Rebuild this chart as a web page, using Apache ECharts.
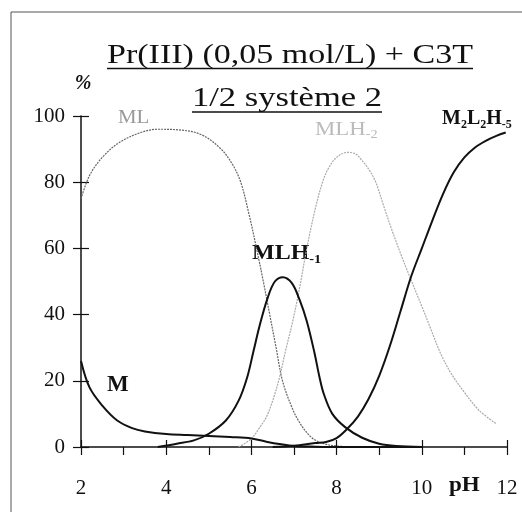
<!DOCTYPE html>
<html><head><meta charset="utf-8">
<script src="https://cdn.jsdelivr.net/npm/echarts@6/dist/echarts.min.js"></script>
<style>html,body{margin:0;padding:0;background:#fff}#c{width:522px;height:512px}</style>
</head><body><div id="c"></div>
<script>
// ---- data ----
const xTicks = [2, 4, 6, 8, 10, 12];
const yTicks = [0, 20, 40, 60, 80, 100];

const mPH  = [2, 2.2, 2.5, 2.85, 3.2, 3.5, 4, 4.5, 5, 5.5, 6, 6.35, 6.7, 7, 7.5, 8, 9, 10];
const mVal = [26, 18, 12.5, 8, 5.7, 4.7, 3.9, 3.6, 3.3, 3.0, 2.6, 1.6, 0.8, 0.3, 0.1, 0, 0, 0];

const mlPH  = [2, 2.2, 2.5, 2.9, 3.4, 3.8, 4.3, 4.8, 5.25, 5.55, 5.75, 5.95, 6.12, 6.28, 6.43, 6.58, 6.73, 6.95, 7.15, 7.4, 7.65, 8, 8.5];
const mlVal = [75, 82, 87.5, 92, 95, 96, 95.8, 94.5, 90.5, 85.5, 80, 70, 60, 50, 40, 30, 20, 12, 7, 3, 1.2, 0.3, 0];

const mlh1PH  = [3.8, 4.25, 4.65, 5.0, 5.4, 5.7, 5.9, 6.05, 6.2, 6.38, 6.55, 6.74, 6.95, 7.13, 7.3, 7.48, 7.6, 7.7, 7.9, 8.2, 8.6, 9.0, 9.4, 10];
const mlh1Val = [0, 1, 2, 4, 8, 14, 21, 29, 37, 45, 50, 51.3, 49.5, 44.5, 38, 28.5, 21, 16, 10, 6, 2.8, 1, 0.3, 0];

const mlh2PH  = [5.7, 6.0, 6.2, 6.35, 6.5, 6.66, 6.8, 6.97, 7.13, 7.3, 7.5, 7.67, 7.8, 8.0, 8.25, 8.45, 8.6, 8.75, 8.92, 9.1, 9.3, 9.5, 9.7, 10.0, 10.2, 10.45, 10.7, 11.0, 11.35, 11.75];
const mlh2Val = [0, 2.5, 6, 9, 14, 21, 29, 38, 48, 60, 72, 80, 84, 87.5, 89, 88.5, 86.5, 84, 80, 73, 65.5, 58.5, 52, 42.5, 36, 28, 22, 16.5, 11, 7];

const m2PH  = [6.5, 7.0, 7.5, 7.75, 8.0, 8.25, 8.5, 8.75, 9.0, 9.25, 9.5, 9.75, 10.0, 10.25, 10.5, 10.75, 11.0, 11.25, 11.5, 11.75, 11.97];
const m2Val = [0, 0.4, 1.2, 1.5, 2.7, 5.5, 9.2, 14.5, 21.5, 30.5, 41, 51.5, 60, 68.5, 76.5, 83, 87.5, 90.5, 92.5, 94, 95];

const zip = (a, b) => a.map((x, i) => [x, b[i]]);
const serif = 'Liberation Serif, Times New Roman, serif';

const chart = echarts.init(document.getElementById('c'), null, {renderer: 'canvas'});

const black = '#111';
const axisCommon = {type: 'value', min: 2, max: 12, splitLine: {show: false}};

const sub = (fontW, size, color) => ({
  b: {font: fontW + size + 'px ' + serif, fill: color, color: color},
  s: {font: fontW + Math.round(size * 0.62) + 'px ' + serif, fill: color, color: color, padding: [Math.round(size * 0.55), 0, 0, 0]}
});

chart.setOption({
  animation: false,
  backgroundColor: '#fff',
  grid: {left: 81, right: 15, top: 116, bottom: 65},
  xAxis: [
    Object.assign({}, axisCommon, {
      interval: 1,
      axisLine: {show: true, lineStyle: {color: black, width: 1.5}},
      axisTick: {show: true, inside: false, length: 8, lineStyle: {color: black, width: 1.2}},
      axisLabel: {
        show: true, margin: 31, color: black, fontFamily: serif, fontSize: 21,
        formatter: v => (xTicks.indexOf(v) >= 0 ? String(v) : '')
      }
    }),
    Object.assign({}, axisCommon, {
      interval: 2, position: 'bottom',
      axisLine: {show: false},
      axisTick: {show: true, inside: true, length: 7, lineStyle: {color: black, width: 1.2}},
      axisLabel: {show: false}
    })
  ],
  yAxis: [
    {
      type: 'value', min: 0, max: 100, interval: 20, splitLine: {show: false},
      axisLine: {show: true, lineStyle: {color: black, width: 1.5}},
      axisTick: {show: true, inside: false, length: 8, lineStyle: {color: black, width: 1.2}},
      axisLabel: {
        margin: 16, color: black, fontFamily: serif, fontSize: 21,
        formatter: v => (yTicks.indexOf(v) >= 0 ? String(v) : '')
      }
    },
    {
      type: 'value', min: 0, max: 100, interval: 20, position: 'left', splitLine: {show: false},
      axisLine: {show: false},
      axisTick: {show: true, inside: true, length: 8, lineStyle: {color: black, width: 1.2}},
      axisLabel: {show: false}
    }
  ],
  series: [
    {name: 'ML', type: 'line', data: zip(mlPH, mlVal), smooth: 0.35, showSymbol: false,
     lineStyle: {color: '#666', width: 1.2, type: [2, 1]}},
    {name: 'MLH-2', type: 'line', data: zip(mlh2PH, mlh2Val), smooth: 0.35, showSymbol: false,
     lineStyle: {color: '#aaa', width: 1.2, type: [2, 1]}},
    {name: 'M', type: 'line', data: zip(mPH, mVal), smooth: 0.35, showSymbol: false,
     lineStyle: {color: black, width: 2}},
    {name: 'MLH-1', type: 'line', data: zip(mlh1PH, mlh1Val), smooth: 0.35, showSymbol: false,
     lineStyle: {color: black, width: 2}},
    {name: 'M2L2H-5', type: 'line', data: zip(m2PH, m2Val), smooth: 0.35, showSymbol: false,
     lineStyle: {color: black, width: 2}}
  ],
  graphic: [
    {type: 'rect', shape: {x: 11, y: 12, width: 530, height: 530}, silent: true,
     style: {fill: 'none', stroke: '#555', lineWidth: 1}},
    {type: 'text', x: 290, y: 56, scaleX: 1.26, style: {text: 'Pr(III) (0,05 mol/L) + C3T', font: '27px ' + serif,
      fill: black, align: 'center', verticalAlign: 'middle'}},
    {type: 'line', shape: {x1: 107, y1: 68.5, x2: 473, y2: 68.5}, style: {stroke: black, lineWidth: 1.5}},
    {type: 'text', x: 287, y: 99, scaleX: 1.28, style: {text: '1/2 système 2', font: '27px ' + serif,
      fill: black, align: 'center', verticalAlign: 'middle'}},
    {type: 'line', shape: {x1: 192, y1: 112, x2: 382, y2: 112}, style: {stroke: black, lineWidth: 1.5}},
    {type: 'text', x: 83, y: 84, style: {text: '%', font: 'italic bold 20px ' + serif,
      fill: black, align: 'center', verticalAlign: 'middle'}},
    {type: 'text', x: 118, y: 118, scaleX: 1.1, style: {text: 'ML', font: '19px ' + serif,
      fill: '#999', align: 'left', verticalAlign: 'middle'}},
    {type: 'text', x: 315, y: 130, scaleX: 1.2, style: {
      text: '{b|MLH}{s|-2}', align: 'left', verticalAlign: 'middle', rich: sub('', 19, '#bbb')}},
    {type: 'text', x: 442, y: 119, style: {
      text: '{b|M}{s|2}{b|L}{s|2}{b|H}{s|-5}', align: 'left', verticalAlign: 'middle', rich: sub('bold ', 20, black)}},
    {type: 'text', x: 252, y: 254, scaleX: 1.2, style: {
      text: '{b|MLH}{s|-1}', align: 'left', verticalAlign: 'middle', rich: sub('bold ', 20, black)}},
    {type: 'text', x: 107, y: 385, style: {text: 'M', font: 'bold 23px ' + serif,
      fill: black, align: 'left', verticalAlign: 'middle'}},
    {type: 'text', x: 449, y: 486, scaleX: 1.1, style: {text: 'pH', font: 'bold 21px ' + serif,
      fill: black, align: 'left', verticalAlign: 'middle'}}
  ]
});
</script>
</body></html>
